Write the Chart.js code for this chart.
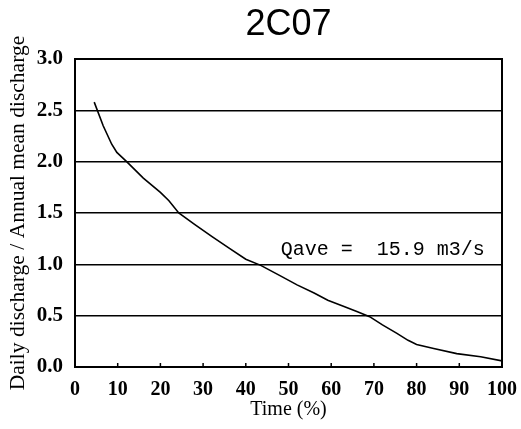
<!DOCTYPE html>
<html>
<head>
<meta charset="utf-8">
<script src="https://cdn.jsdelivr.net/npm/chart.js@4/dist/chart.umd.min.js"></script>
<style>
html,body{margin:0;padding:0;background:#fff;}
#wrap{width:521px;height:429px;}
</style>
</head>
<body>
<div id="wrap"><canvas id="c" width="521" height="429"></canvas></div>
<script>
const chartTitle = "2C07";
const xTitle = "Time (%)";
const yTitle = "Daily discharge / Annual mean discharge";
const annotationText = "Qave =  15.9 m3/s";
const timePct = [4.5, 6.6, 8.6, 9.8, 12.1, 16, 20, 22, 24.3, 28, 32.1, 36, 40, 43.5, 48, 52, 56, 59.2, 63, 66, 69, 72, 75.3, 78, 80, 84, 89.4, 95, 100];
const ratio   = [2.58, 2.35, 2.17, 2.09, 2.0, 1.84, 1.70, 1.62, 1.50, 1.39, 1.27, 1.16, 1.05, 0.99, 0.89, 0.80, 0.72, 0.65, 0.59, 0.54, 0.49, 0.41, 0.33, 0.26, 0.22, 0.18, 0.13, 0.10, 0.06];

const points = timePct.map((t, i) => ({x: t, y: ratio[i]}));

const decor = {
  id: 'decor',
  afterDraw(chart) {
    const ctx = chart.ctx;
    const a = chart.chartArea;
    const xs = chart.scales.x, ys = chart.scales.y;
    ctx.save();
    ctx.strokeStyle = '#000';
    ctx.lineWidth = 2;
    ctx.beginPath();
    ctx.moveTo(a.left, a.top); ctx.lineTo(a.right, a.top); ctx.lineTo(a.right, a.bottom);
    ctx.stroke();
    ctx.lineWidth = 1.5;
    xs.ticks.forEach(t => {
      const px = xs.getPixelForValue(t.value);
      ctx.beginPath(); ctx.moveTo(px, a.bottom); ctx.lineTo(px, a.bottom - 4); ctx.stroke();
    });
    ctx.fillStyle = '#000';
    ctx.font = '36px "Liberation Sans", Arial, sans-serif';
    ctx.textAlign = 'center';
    ctx.textBaseline = 'middle';
    ctx.fillText(chartTitle, (a.left + a.right) / 2, 25);
    ctx.font = '20px "Liberation Mono", "DejaVu Sans Mono", monospace';
    ctx.textAlign = 'left';
    ctx.fillText(annotationText, xs.getPixelForValue(48.2), ys.getPixelForValue(1.14));
    ctx.restore();
  }
};

new Chart(document.getElementById('c'), {
  type: 'line',
  data: {
    datasets: [{
      data: points,
      borderColor: '#000',
      borderWidth: 1.6,
      pointRadius: 0,
      tension: 0,
      fill: false
    }]
  },
  options: {
    responsive: false,
    animation: false,
    devicePixelRatio: 1,
    layout: {padding: {top: 59, right: 19, left: 0, bottom: 0}},
    plugins: {legend: {display: false}, tooltip: {enabled: false}, title: {display: false}},
    scales: {
      x: {
        type: 'linear', min: 0, max: 100,
        afterFit(s) { s.height = 62; s.paddingRight = 0; s.paddingLeft = 0; },
        ticks: {stepSize: 10, color: '#000', padding: 11, maxRotation: 0,
          font: {family: '"Liberation Serif", "Times New Roman", serif', size: 20, weight: 'bold'}},
        grid: {display: false, drawTicks: false},
        border: {display: true, color: '#000', width: 2},
        title: {display: true, text: xTitle, color: '#000', padding: {top: 0, bottom: 7},
          font: {family: '"Liberation Serif", "Times New Roman", serif', size: 20}}
      },
      y: {
        min: 0, max: 3,
        afterFit(s) { s.width = 75; },
        ticks: {stepSize: 0.5, color: '#000', padding: 12,
          callback: v => Number(v).toFixed(1),
          font: {family: '"Liberation Serif", "Times New Roman", serif', size: 21, weight: 'bold'}},
        grid: {color: '#000', lineWidth: 1.5, drawTicks: false},
        border: {display: true, color: '#000', width: 2},
        title: {display: true, text: yTitle, color: '#000', padding: {top: 5, bottom: 0},
          font: {family: '"Liberation Serif", "Times New Roman", serif', size: 21.5}}
      }
    }
  },
  plugins: [decor]
});
</script>
</body>
</html>
